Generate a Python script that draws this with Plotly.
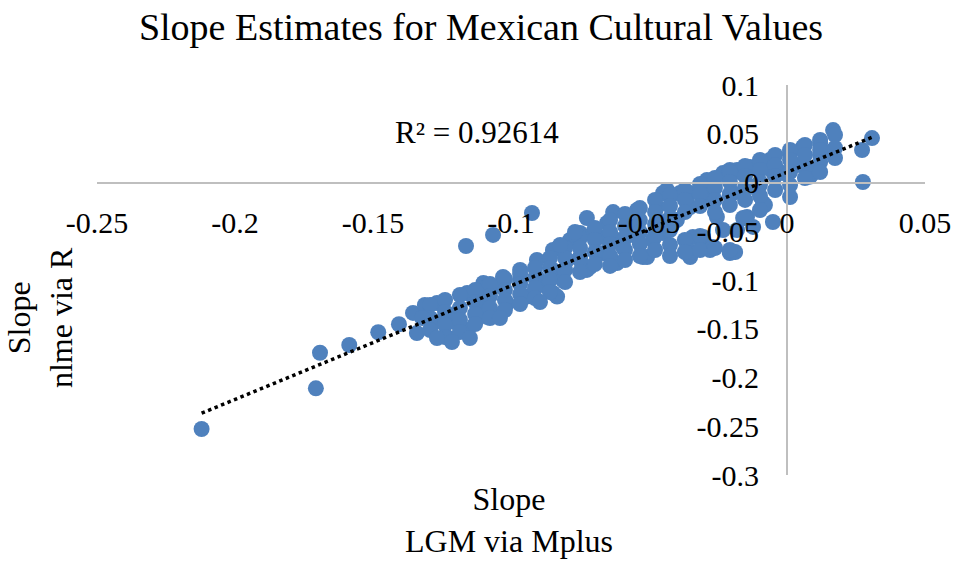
import plotly.graph_objects as go

# Slope estimates: LGM via Mplus (x) against nlme via R (y)
lgm_slope = [
    # sparse points at the low end
    -0.2121, -0.1707, -0.1692, -0.1586, -0.1481, -0.1406,
    -0.1355, -0.1341, -0.1312, -0.1283, -0.1268, -0.1239, -0.1232, -0.1196, -0.1196,
    -0.1159, -0.1159, -0.1101, -0.1087, -0.1065,
    -0.1163, -0.1065, -0.0924,
    # main band
    -0.1138, -0.1112, -0.1100, -0.1100, -0.1087, -0.1030, -0.1029, -0.1014, -0.0967,
    -0.0967, -0.0942, -0.0906, -0.0906, -0.0870, -0.0848, -0.0848, -0.0848, -0.0833,
    -0.0812, -0.0797, -0.0786, -0.0761, -0.0750, -0.0750, -0.0725, -0.0725, -0.0714,
    -0.0703, -0.0678, -0.0667, -0.0652, -0.0641, -0.0630, -0.0616, -0.0616, -0.0594,
    -0.0569, -0.0543, -0.0543, -0.0522, -0.0507, -0.0486, -0.0471, -0.0471, -0.0449,
    -0.0449, -0.0435, -0.0424, -0.0424, -0.0399, -0.0388, -0.0351, -0.0351, -0.0351,
    -0.0344, -0.0341, -0.0304, -0.0304, -0.0290, -0.0279, -0.0279, -0.0268, -0.0254,
    -0.0232, -0.0232, -0.0207, -0.0207, -0.0207, -0.0196, -0.0196, -0.0188, -0.0181,
    -0.0181, -0.0170, -0.0159, -0.0145, -0.0134, -0.0123, -0.0123, -0.0123, -0.0098,
    -0.0087, -0.0087, -0.0080, -0.0062, -0.0051, -0.0051, -0.0050, -0.0014, 0.0011,
    0.0011, 0.0036, 0.0058, 0.0072, 0.0083, 0.0094, 0.0120, 0.0120, 0.0156, 0.0167,
    0.0272, 0.0275, 0.0308,
    -0.1293, -0.1293, -0.1293,
    -0.1239, -0.1239, -0.1239, -0.1239,
    -0.1185, -0.1185, -0.1185, -0.1185,
    -0.1130, -0.1130, -0.1130, -0.1130,
    -0.1076, -0.1076, -0.1076, -0.1076,
    -0.1022, -0.1022, -0.1022, -0.1022,
    -0.0967, -0.0967, -0.0967, -0.0967,
    -0.0913, -0.0913, -0.0913, -0.0913,
    -0.0859, -0.0859, -0.0859, -0.0859,
    -0.0804, -0.0804, -0.0804, -0.0804,
    -0.0750, -0.0750, -0.0750, -0.0750,
    -0.0696, -0.0696, -0.0696, -0.0696,
    -0.0641, -0.0641, -0.0641, -0.0641, -0.0641,
    -0.0587, -0.0587, -0.0587, -0.0587, -0.0587,
    -0.0533, -0.0533, -0.0533, -0.0533, -0.0533,
    -0.0478, -0.0478, -0.0478, -0.0478, -0.0478,
    -0.0424, -0.0424, -0.0424, -0.0424, -0.0424, -0.0424,
    -0.0370, -0.0370, -0.0370, -0.0370, -0.0370,
    -0.0315, -0.0315, -0.0315, -0.0315, -0.0315,
    -0.0261, -0.0261, -0.0261, -0.0261, -0.0261,
    -0.0207, -0.0207, -0.0207, -0.0207, -0.0207,
    -0.0152, -0.0152, -0.0152, -0.0152, -0.0152,
    -0.0098, -0.0098, -0.0098, -0.0098, -0.0098,
    -0.0043, -0.0043, -0.0043, -0.0043,
    0.0011, 0.0011, 0.0011, 0.0011,
    0.0065, 0.0065, 0.0065, 0.0065,
    0.0120, 0.0120, 0.0120, 0.0120,
    0.0174, 0.0174, 0.0174,
    -0.1322, -0.1214, -0.1268, -0.1149, -0.0895, -0.1040, -0.0822, -0.0768,
]
nlme_slope = [
    -0.2528, -0.2111, -0.1746, -0.1667, -0.1536, -0.1454,
    -0.1338, -0.1544, -0.1256, -0.1441, -0.1236, -0.1410, -0.1585, -0.1441, -0.1338,
    -0.1513, -0.1133, -0.1205, -0.1379, -0.1072,
    -0.0651, -0.0538, -0.0313,
    -0.1174, -0.1338, -0.1030, -0.1280, -0.1072, -0.1070, -0.0969, -0.1240, -0.1000,
    -0.0897, -0.1170, -0.0970, -0.0795, -0.1070, -0.0897, -0.0692, -0.1133, -0.1170,
    -0.1000, -0.0795, -0.0590, -0.0590, -0.0764, -0.0518, -0.0897, -0.0364, -0.0867,
    -0.0518, -0.0559, -0.0723, -0.0415, -0.0764, -0.0303, -0.0590, -0.0826, -0.0662,
    -0.0456, -0.0282, -0.0559, -0.0764, -0.0764, -0.0590, -0.0385, -0.0251, -0.0108,
    -0.0518, -0.0077, -0.0149, -0.0415, -0.0385, -0.0108, -0.0251, -0.0108, -0.0764,
    -0.0713, -0.0559, -0.0077, -0.0559, 0.0026, -0.0180, -0.0692, -0.0662, -0.0354,
    0.0097, -0.0487, 0.0128, -0.0128, -0.0723, -0.0108, -0.0713, -0.0713, -0.0487,
    0.0128, 0.0108, -0.0364, -0.0354, 0.0159, -0.0046, -0.0456, 0.0149, -0.0026,
    0.0200, -0.0210, -0.0231, 0.0231, 0.0108, -0.0405, 0.0230, 0.0097, 0.0303,
    -0.0149, 0.0180, 0.0364, 0.0149, 0.0060, 0.0097, 0.0405, 0.0282, 0.0313, 0.0538,
    0.0333, 0.0005, 0.0456,
    -0.1256, -0.1390, -0.1513,
    -0.1205, -0.1328, -0.1462, -0.1585,
    -0.1154, -0.1287, -0.1410, -0.1533,
    -0.1103, -0.1226, -0.1349, -0.1451,
    -0.1041, -0.1164, -0.1287, -0.1390,
    -0.0990, -0.1103, -0.1205, -0.1308,
    -0.0938, -0.1041, -0.1144, -0.1246,
    -0.0877, -0.0979, -0.1082, -0.1185,
    -0.0774, -0.0877, -0.1000, -0.1123,
    -0.0672, -0.0774, -0.0897, -0.1021,
    -0.0569, -0.0672, -0.0795, -0.0918,
    -0.0467, -0.0590, -0.0713, -0.0836,
    -0.0385, -0.0508, -0.0631, -0.0754, -0.0856,
    -0.0323, -0.0446, -0.0569, -0.0692, -0.0795,
    -0.0262, -0.0385, -0.0508, -0.0631, -0.0754,
    -0.0179, -0.0303, -0.0426, -0.0549, -0.0692,
    -0.0128, -0.0241, -0.0364, -0.0487, -0.0641, -0.0754,
    -0.0077, -0.0179, -0.0303, -0.0590, -0.0713,
    -0.0015, -0.0118, -0.0241, -0.0549, -0.0692,
    0.0046, -0.0056, -0.0179, -0.0303, -0.0672,
    0.0108, 0.0005, -0.0118, -0.0231, -0.0692,
    0.0169, 0.0067, -0.0056, -0.0179, -0.0364,
    0.0231, 0.0128, 0.0005, -0.0138, -0.0282,
    0.0282, 0.0179, 0.0067, -0.0077,
    0.0333, 0.0231, 0.0108, -0.0026,
    0.0385, 0.0282, 0.0149, 0.0046,
    0.0436, 0.0333, 0.0210, 0.0108,
    0.0487, 0.0354, 0.0251,
    -0.1390, -0.1636, -0.1595, -0.1595, -0.1226, -0.1390, -0.0641, -0.0508,
]

# Linear trendline reported with the chart
trend_slope = 1.165
trend_intercept = 0.0105
r_squared_label = "R² = 0.92614"

x_tick_vals = [-0.25, -0.2, -0.15, -0.1, -0.05, 0, 0.05]
x_tick_text = ["-0.25", "-0.2", "-0.15", "-0.1", "-0.05", "0", "0.05"]
y_tick_vals = [0.1, 0.05, 0, -0.05, -0.1, -0.15, -0.2, -0.25, -0.3]
y_tick_text = ["0.1", "0.05", "0", "-0.05", "-0.1", "-0.15", "-0.2", "-0.25", "-0.3"]

x_range = [-0.25, 0.05]
y_range = [-0.3, 0.1]

FONT = "Liberation Serif, Times New Roman, serif"
AXIS_GREY = "#bfbfbf"
POINT_BLUE = "#4f81bd"

trend_x = [min(lgm_slope), max(lgm_slope)]
trend_y = [trend_slope * v + trend_intercept for v in trend_x]

fig = go.Figure()
fig.add_trace(go.Scatter(
    x=lgm_slope, y=nlme_slope, mode="markers",
    marker=dict(color=POINT_BLUE, size=16, line=dict(width=0)),
    showlegend=False, hoverinfo="x+y",
))
fig.add_trace(go.Scatter(
    x=trend_x, y=trend_y, mode="lines",
    line=dict(color="black", width=3.5, dash="dot"),
    showlegend=False, hoverinfo="skip",
))

# axes cross at the origin
x_cross = (0 - y_range[0]) / (y_range[1] - y_range[0])
y_cross = (0 - x_range[0]) / (x_range[1] - x_range[0])

fig.update_layout(
    width=954, height=561,
    margin=dict(l=97, r=29, t=85, b=86, autoexpand=False),
    paper_bgcolor="white", plot_bgcolor="white",
    showlegend=False,
    font=dict(family=FONT, color="black"),
    title=dict(
        text="Slope Estimates for Mexican Cultural Values",
        x=481 / 954, xanchor="center", y=1 - 27 / 561, yanchor="middle",
        font=dict(family=FONT, size=38, color="black"),
    ),
    xaxis=dict(
        range=x_range, anchor="free", position=x_cross, automargin=False,
        tickvals=x_tick_vals, ticktext=x_tick_text,
        showline=True, linecolor=AXIS_GREY, linewidth=2,
        showgrid=False, zeroline=False,
        ticks="outside", ticklen=13, tickcolor="rgba(0,0,0,0)",
        tickfont=dict(family=FONT, size=30, color="black"),
    ),
    yaxis=dict(
        range=y_range, anchor="free", position=y_cross, side="left",
        automargin=False,
        tickvals=y_tick_vals, ticktext=y_tick_text,
        showline=True, linecolor=AXIS_GREY, linewidth=2,
        showgrid=False, zeroline=False,
        ticks="outside", ticklen=21, tickcolor="rgba(0,0,0,0)",
        tickfont=dict(family=FONT, size=30, color="black"),
    ),
    annotations=[
        dict(text=r_squared_label, x=-0.1123, y=0.0518, xref="x", yref="y",
             showarrow=False, font=dict(family=FONT, size=31, color="black")),
        dict(text="Slope<br>LGM via Mplus", x=0.498, y=-0.1154,
             xref="paper", yref="paper", showarrow=False,
             xanchor="center", yanchor="middle",
             font=dict(family=FONT, size=32, color="black")),
        dict(text="Slope<br>nlme via R", x=-0.0688, y=0.4026,
             xref="paper", yref="paper", showarrow=False, textangle=-90,
             xanchor="center", yanchor="middle",
             font=dict(family=FONT, size=32, color="black")),
    ],
)

fig.write_html("out.html")
